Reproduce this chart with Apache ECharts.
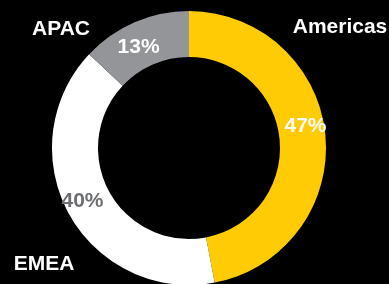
<!DOCTYPE html>
<html><head><meta charset="utf-8">
<script src="https://cdn.jsdelivr.net/npm/echarts@6/dist/echarts.min.js"></script>
<style>html,body{margin:0;padding:0;background:#000;}#c{width:389px;height:284px;}</style>
</head><body><div id="c"></div>
<script>
var categories = ['Americas', 'EMEA', 'APAC'];
var values = [47, 40, 13];
var colors = ['#FFCB05', '#FFFFFF', '#939598'];
var labelColors = ['#FFFFFF', '#6D6E71', '#FFFFFF'];
var labelOffsets = [[0, -11], [-4, -3], [-4, 7]];
var outerLabelPos = [[340, 27], [44, 264], [61, 29]];

var chart = echarts.init(document.getElementById('c'));
var font = 'Liberation Sans, Arial, Helvetica, sans-serif';
chart.setOption({
  backgroundColor: '#000',
  animation: false,
  series: [{
    type: 'pie',
    radius: [91, 137],
    center: [189, 148],
    startAngle: 90,
    clockwise: true,
    itemStyle: { borderWidth: 0 },
    label: {
      show: true, position: 'inside', formatter: '{d}%',
      fontFamily: font, fontWeight: 'bold', fontSize: 21
    },
    labelLine: { show: false },
    emphasis: { disabled: true },
    data: categories.map(function (c, i) {
      return {
        name: c, value: values[i],
        itemStyle: { color: colors[i] },
        label: { color: labelColors[i], offset: labelOffsets[i] }
      };
    })
  }],
  graphic: categories.map(function (c, i) {
    return {
      type: 'text', x: outerLabelPos[i][0], y: outerLabelPos[i][1],
      style: { text: c, fill: '#FFFFFF', font: 'bold 21px ' + font, align: 'center', verticalAlign: 'middle' }
    };
  })
});
</script></body></html>
